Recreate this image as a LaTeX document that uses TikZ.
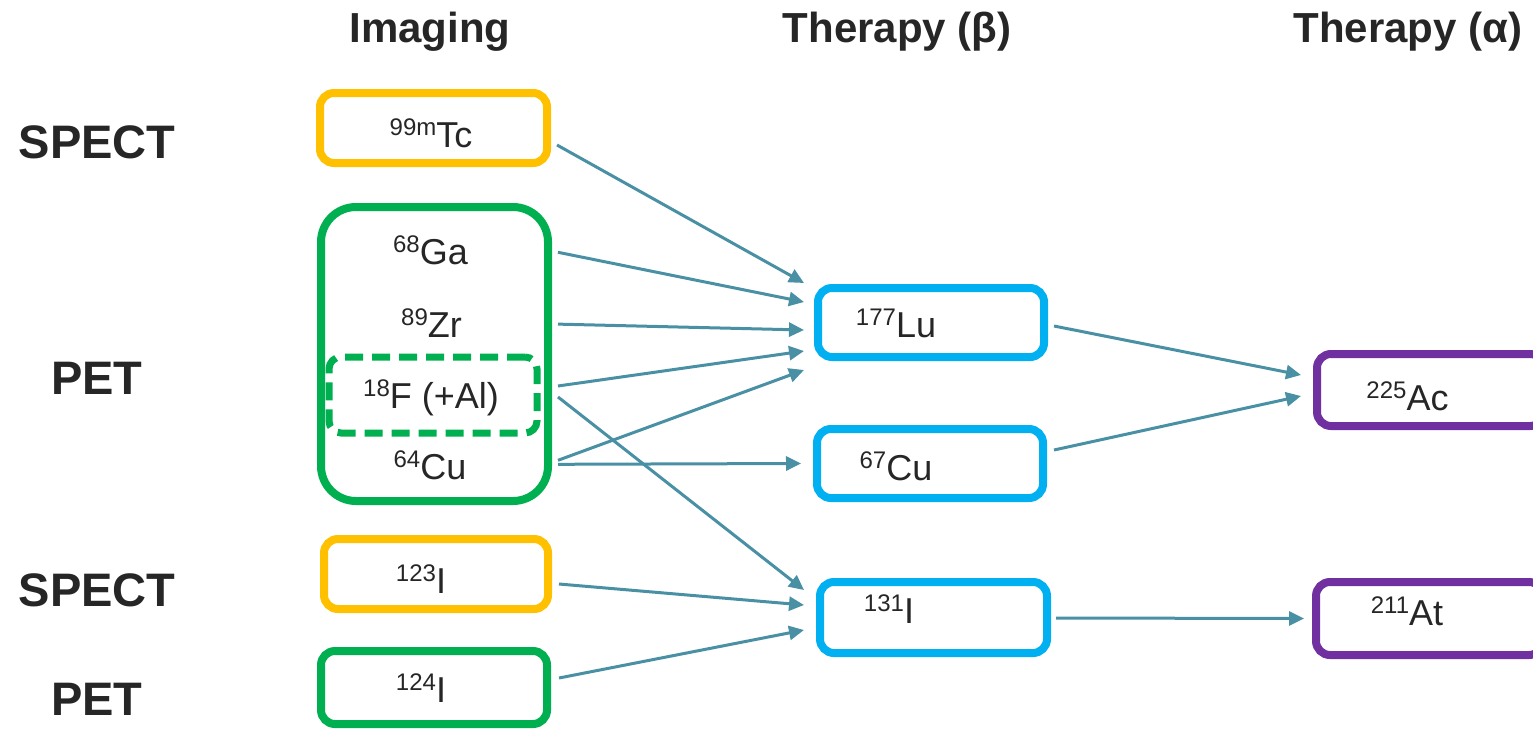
\documentclass[tikz,border=0pt]{standalone}
\usepackage{fontspec}
\setmainfont{Liberation Sans}
\usetikzlibrary{arrows.meta,calc}

\definecolor{spectc}{HTML}{FFC000}
\definecolor{petc}{HTML}{00B050}
\definecolor{betac}{HTML}{00B0F0}
\definecolor{alphac}{HTML}{7030A0}
\definecolor{linkc}{HTML}{4A90A4}
\definecolor{inkc}{HTML}{262626}

\newcommand{\iso}[2]{{\fontsize{24}{24}\selectfont\raisebox{12pt}{#1}}#2}

\begin{document}
\begin{tikzpicture}[x=1pt,y=-1pt,
  isobox/.style={draw=#1,line width=8pt,rounded corners=14pt,minimum width=227pt,minimum height=70pt,inner sep=0pt},
  isotxt/.style={anchor=base,inner sep=0pt,text=inkc,font=\fontsize{36}{40}\selectfont},
  colhead/.style={anchor=base,inner sep=0pt,text=inkc,font=\fontsize{42}{48}\selectfont\bfseries},
  rowhead/.style={anchor=base,inner sep=0pt,text=inkc,font=\fontsize{47}{52}\selectfont\bfseries},
  link/.style={draw=linkc,line width=3pt,-{Triangle[length=15pt,width=14pt]}}]
\useasboundingbox (0,0) rectangle (1533,731);

\node[colhead] (himg) at (430,42) {Imaging};
\node[colhead] (hbeta) at (897,42) {Therapy (β)};
\node[colhead] (halpha) at (1408,42) {Therapy (α)};

\node[rowhead] (spect1) at (97,158) {SPECT};
\node[rowhead] (pet1) at (97,394) {PET};
\node[rowhead] (spect2) at (97,606) {SPECT};
\node[rowhead] (pet2) at (97,715) {PET};

% imaging
\node[isobox=spectc] (tc) at (433.5,128) {};
\node[isobox=petc,minimum height=294pt,rounded corners=35pt] (pet) at (434.5,354) {};
\node[isobox=petc,minimum width=208pt,minimum height=76pt,line width=7pt,rounded corners=12pt,dash pattern=on 18pt off 9pt] (fbox) at (433,395) {};
\node[isobox=spectc,minimum width=224pt] (i123) at (436,574) {};
\node[isobox=petc,minimum width=226pt,minimum height=73pt] (i124) at (434,687.5) {};

\node[isotxt] (tctxt) at (431,147) {\iso{99m}{Tc}};
\node[isotxt] (ga) at (430.5,264) {\iso{68}{Ga}};
\node[isotxt] (zr) at (431.5,337) {\iso{89}{Zr}};
\node[isotxt] (ftxt) at (431,408) {\iso{18}{F (+Al)}};
\node[isotxt] (cu) at (430,479) {\iso{64}{Cu}};
\node[isotxt] (i123txt) at (421,593) {\iso{123}{I}};
\node[isotxt] (i124txt) at (421,702) {\iso{124}{I}};

% beta therapy
\node[isobox=betac,minimum width=226pt,minimum height=69pt] (lu) at (931,322.5) {};
\node[isobox=betac,minimum width=226pt,minimum height=69pt] (cu67) at (930,463.5) {};
\node[isobox=betac,minimum height=71pt] (i131) at (933.5,617.5) {};
\node[isotxt] (lutxt) at (896,337) {\iso{177}{Lu}};
\node[isotxt] (cu67txt) at (896,480) {\iso{67}{Cu}};
\node[isotxt] (i131txt) at (889,623) {\iso{131}{I}};

% alpha therapy
\node[isobox=alphac,minimum height=72pt] (ac) at (1430.5,390) {};
\node[isobox=alphac,minimum height=73pt] (at) at (1429.5,618.5) {};
\node[isotxt] (actxt) at (1407.5,410) {\iso{225}{Ac}};
\node[isotxt] (attxt) at (1407,625) {\iso{211}{At}};

\draw[link] ($(tc.east)+(6,17)$) -- ($(lu.west)+(-10,-39.5)$);
\draw[link] ($(pet.east |- ga)+(6,2.5)$) -- ($(lu.west)+(-10,-20.5)$);
\draw[link] ($(pet.east |- zr)+(6,1.5)$) -- ($(lu.west)+(-10,7.5)$);
\draw[link] ($(pet.east |- fbox)+(6,-9)$) -- ($(lu.west)+(-10,28.5)$);
\draw[link] ($(pet.east |- cu)+(6,-4.5)$) -- ($(lu.west)+(-10,47.5)$);
\draw[link] ($(pet.east |- fbox)+(6,2)$) -- ($(i131.west)+(-12,-27.5)$);
\draw[link] ($(pet.east |- cu)+(6,-0.5)$) -- ($(cu67.west)+(-12,0)$);
\draw[link] ($(i123.east)+(7,10)$) -- ($(i131.west)+(-12,-12.5)$);
\draw[link] ($(i124.east)+(8,-9.5)$) -- ($(i131.west)+(-12,12.5)$);
\draw[link] ($(lu.east)+(6,3.5)$) -- ($(ac.west)+(-12,-15)$);
\draw[link] ($(cu67.east)+(7,-13.5)$) -- ($(ac.west)+(-12,6)$);
\draw[link] ($(i131.east)+(5,0.5)$) -- ($(at.west)+(-8,0)$);
\end{tikzpicture}
\end{document}
